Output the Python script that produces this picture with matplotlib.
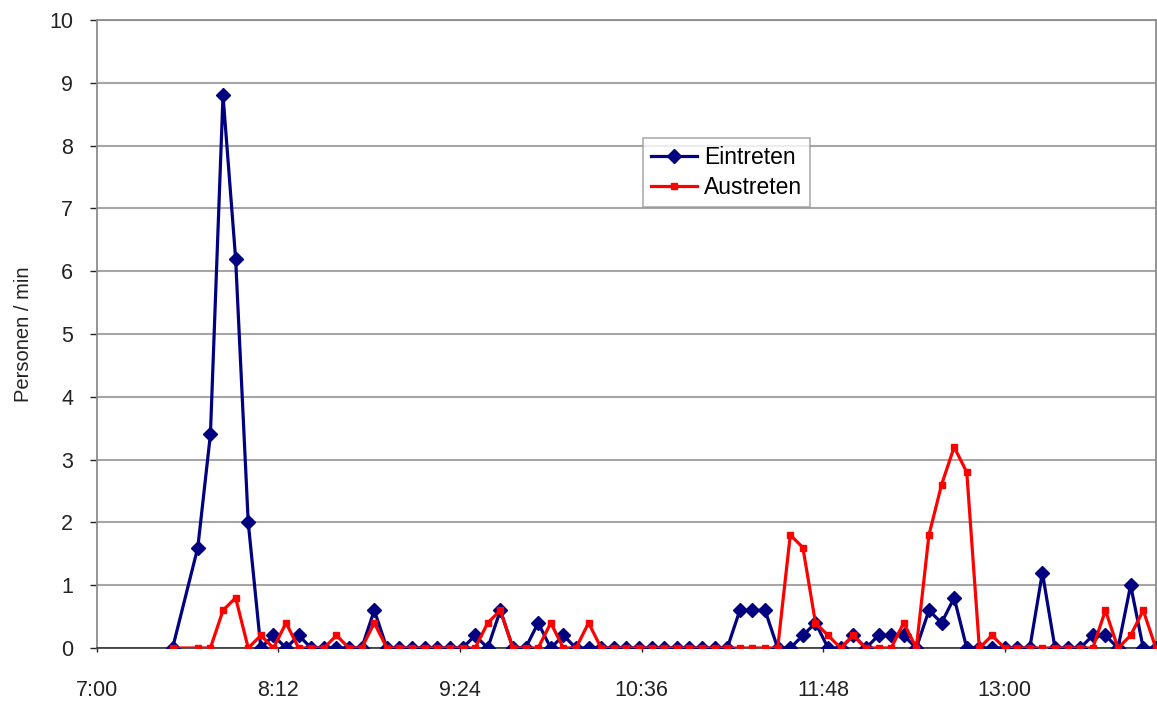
import numpy as np
import matplotlib
matplotlib.use('Agg')
import matplotlib.pyplot as plt

plt.rcParams['font.family'] = ['Liberation Sans', 'DejaVu Sans']

# minutes after 7:00 (no sample at 7:35)
minutes = [30] + list(range(40, 425, 5))

eintreten = [0, 1.6, 3.4, 8.8, 6.2, 2.0, 0, 0.2, 0, 0.2,
             0, 0, 0, 0, 0, 0.6, 0, 0, 0, 0,
             0, 0, 0, 0.2, 0, 0.6, 0, 0, 0.4, 0,
             0.2, 0, 0, 0, 0, 0, 0, 0, 0, 0,
             0, 0, 0, 0, 0.6, 0.6, 0.6, 0, 0, 0.2,
             0.4, 0, 0, 0.2, 0, 0.2, 0.2, 0.2, 0, 0.6,
             0.4, 0.8, 0, 0, 0, 0, 0, 0, 1.2, 0,
             0, 0, 0.2, 0.2, 0, 1.0, 0, 0]

austreten = [0, 0, 0, 0.6, 0.8, 0, 0.2, 0, 0.4, 0,
             0, 0, 0.2, 0, 0, 0.4, 0, 0, 0, 0,
             0, 0, 0, 0, 0.4, 0.6, 0, 0, 0, 0.4,
             0, 0, 0.4, 0, 0, 0, 0, 0, 0, 0,
             0, 0, 0, 0, 0, 0, 0, 0, 1.8, 1.6,
             0.4, 0.2, 0, 0.2, 0, 0, 0, 0.4, 0, 1.8,
             2.6, 3.2, 2.8, 0, 0.2, 0, 0, 0, 0, 0,
             0, 0, 0, 0.6, 0, 0.2, 0.6, 0]

tick_minutes = [0, 72, 144, 216, 288, 360]
tick_labels = ['7:00', '8:12', '9:24', '10:36', '11:48', '13:00']

fig = plt.figure(figsize=(11.57, 7.02), dpi=100)
ax = fig.add_axes([0.0838, 0.0769, 0.9152, 0.8946])

ax.plot(minutes, eintreten, color='#000080', lw=2.3, marker='D', ms=7,
        label='Eintreten', zorder=3)
ax.plot(minutes, austreten, color='#ff0000', lw=2.3, marker='s', ms=5,
        label='Austreten', zorder=4)

ax.set_xlim(0, 420)
ax.set_ylim(0, 10)
ax.set_yticks(range(0, 11))
ax.set_xticks(tick_minutes)
ax.set_xticklabels(tick_labels)
ax.tick_params(axis='both', labelsize=15.5, colors='#222222', length=5,
               width=1, direction='out')
ax.tick_params(axis='x', length=3, pad=20)
ax.tick_params(axis='y', pad=12)
ax.yaxis.grid(True, color='#a6a6a6', lw=1.5)
ax.set_axisbelow(True)

for s in ['left', 'right', 'top']:
    ax.spines[s].set_color('#8c8c8c')
    ax.spines[s].set_linewidth(1.3)
ax.spines['bottom'].set_color('#333333')
ax.spines['bottom'].set_linewidth(1.2)

ax.set_ylabel('Personen / min', fontsize=14.5, color='#222222', labelpad=12)

leg = ax.legend(loc='upper left', bbox_to_anchor=(0.505, 0.83), fontsize=16.5,
                frameon=True, fancybox=False, handlelength=2.0,
                borderpad=0.35, labelspacing=0.3, handletextpad=0.3)
leg.get_frame().set_edgecolor('#9a9a9a')
leg.get_frame().set_linewidth(1.2)

fig.savefig('out.png', dpi=100)
